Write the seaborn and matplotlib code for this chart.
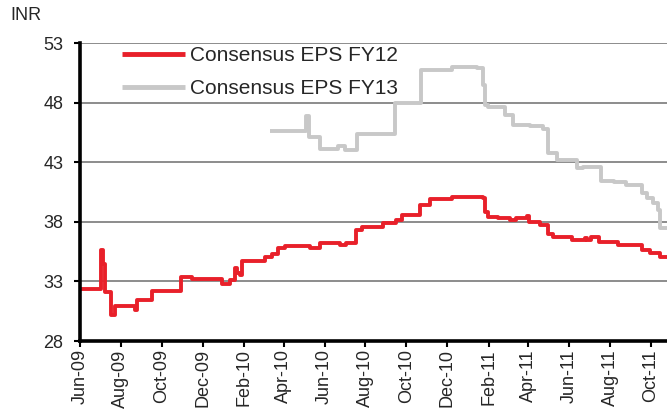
import matplotlib
matplotlib.use("Agg")
import matplotlib.pyplot as plt
import matplotlib.dates as mdates
import seaborn as sns
import pandas as pd

# ---- data ----
fy12_dates = ["2009-06-01", "2009-07-03", "2009-07-06", "2009-07-09", "2009-07-17",
              "2009-07-23", "2009-08-22", "2009-08-25", "2009-09-16", "2009-10-29",
              "2009-11-15", "2009-12-30", "2010-01-11", "2010-01-18", "2010-01-21",
              "2010-01-26", "2010-01-29", "2010-03-04", "2010-03-14", "2010-03-23",
              "2010-04-03", "2010-05-10", "2010-05-25", "2010-06-24", "2010-07-03",
              "2010-07-18", "2010-07-27", "2010-08-27", "2010-09-15", "2010-09-24",
              "2010-10-21", "2010-11-05", "2010-12-08", "2011-01-23", "2011-01-26",
              "2011-01-31", "2011-02-15", "2011-03-04", "2011-03-13", "2011-03-30",
              "2011-04-02", "2011-04-18", "2011-04-30", "2011-05-08", "2011-06-05",
              "2011-06-24", "2011-06-28", "2011-07-04", "2011-07-16", "2011-08-13",
              "2011-09-17", "2011-09-29", "2011-10-14", "2011-10-31"]
fy12_values = [32.4, 35.6, 34.5, 32.1, 30.2,
               30.9, 30.6, 31.4, 32.2, 33.4,
               33.2, 32.75, 33.1, 34.1, 33.7,
               33.5, 34.7, 35.07, 35.3, 35.8,
               36.0, 35.8, 36.2, 36.05, 36.25,
               37.3, 37.6, 37.9, 38.15, 38.57,
               39.4, 39.9, 40.1, 40.0, 38.8,
               38.4, 38.3, 38.15, 38.3, 38.5,
               37.95, 37.7, 37.0, 36.75, 36.5,
               36.65, 36.45, 36.7, 36.3, 36.05,
               35.6, 35.4, 35.07, 35.07]

fy13_dates = ["2010-03-11", "2010-05-05", "2010-05-09", "2010-05-25", "2010-06-21",
              "2010-07-01", "2010-07-19", "2010-09-14", "2010-10-23", "2010-12-08",
              "2011-01-14", "2011-01-23", "2011-01-26", "2011-01-31", "2011-02-25",
              "2011-03-09", "2011-04-03", "2011-04-23", "2011-04-30", "2011-05-14",
              "2011-06-12", "2011-06-21", "2011-07-19", "2011-08-07", "2011-08-25",
              "2011-09-17", "2011-09-25", "2011-10-04", "2011-10-11", "2011-10-14",
              "2011-10-31"]
fy13_values = [45.6, 46.9, 45.1, 44.1, 44.4,
               44.0, 45.4, 48.0, 50.7, 51.0,
               50.9, 49.5, 47.8, 47.65, 46.96,
               46.1, 46.0, 45.8, 43.75, 43.2,
               42.5, 42.6, 41.4, 41.3, 41.1,
               40.4, 40.0, 39.6, 39.0, 37.5,
               37.5]

series_names = ["Consensus EPS FY12", "Consensus EPS FY13"]
y_ticks = [28, 33, 38, 43, 48, 53]
unit_label = "INR"

df = pd.concat([
    pd.DataFrame({"date": pd.to_datetime(fy12_dates), "eps": fy12_values, "series": series_names[0]}),
    pd.DataFrame({"date": pd.to_datetime(fy13_dates), "eps": fy13_values, "series": series_names[1]}),
])

# ---- style ----
sns.set_style("white")
plt.rcParams["font.family"] = ["Liberation Sans", "DejaVu Sans"]

fig = plt.figure(figsize=(6.67, 4.16), dpi=100)
ax = fig.add_axes([80 / 667, 75 / 416, 587 / 667, 298 / 416])

palette = {series_names[0]: "#E8202A", series_names[1]: "#C8C8C8"}
sns.lineplot(data=df, x="date", y="eps", hue="series", palette=palette,
             drawstyle="steps-post", linewidth=2.8, ax=ax, legend=True,
             estimator=None, sort=True)
for line in ax.get_lines():
    line.set_solid_capstyle("butt")

ax.set_xlim(pd.Timestamp("2009-06-01"), pd.Timestamp("2011-10-25"))
ax.set_ylim(28, 53)
ax.set_yticks(y_ticks)
ax.yaxis.grid(True, color="#8c8c8c", linewidth=1.4)
ax.xaxis.grid(False)
ax.set_axisbelow(True)

ax.xaxis.set_major_locator(mdates.MonthLocator(bymonth=[2, 4, 6, 8, 10, 12]))
ax.xaxis.set_major_formatter(mdates.DateFormatter("%b-%y"))
for lbl in ax.get_xticklabels():
    lbl.set_rotation(90)

ax.tick_params(axis="x", which="major", direction="out", length=4, width=1.5,
               color="black", labelsize=13, pad=2, bottom=True)
ax.tick_params(axis="y", which="major", direction="out", length=4, width=1.5,
               color="black", labelsize=13, pad=8, left=True)

for side in ["top", "right"]:
    ax.spines[side].set_visible(False)
for side in ["left", "bottom"]:
    ax.spines[side].set_color("black")
    ax.spines[side].set_linewidth(2.6)

ax.set_xlabel("")
ax.set_ylabel("")

leg = ax.legend(loc="upper left", bbox_to_anchor=(122 / 667, 1 - 46 / 416),
                bbox_transform=fig.transFigure, frameon=False, fontsize=15,
                handlelength=3.0, handletextpad=0.25, labelspacing=0.68,
                borderpad=0, borderaxespad=0)
for h in leg.get_lines():
    h.set_linewidth(3.5)

fig.text(10 / 667, 1 - 24 / 416, unit_label, fontsize=13, ha="left", va="bottom")

fig.savefig("out.png", dpi=100)
